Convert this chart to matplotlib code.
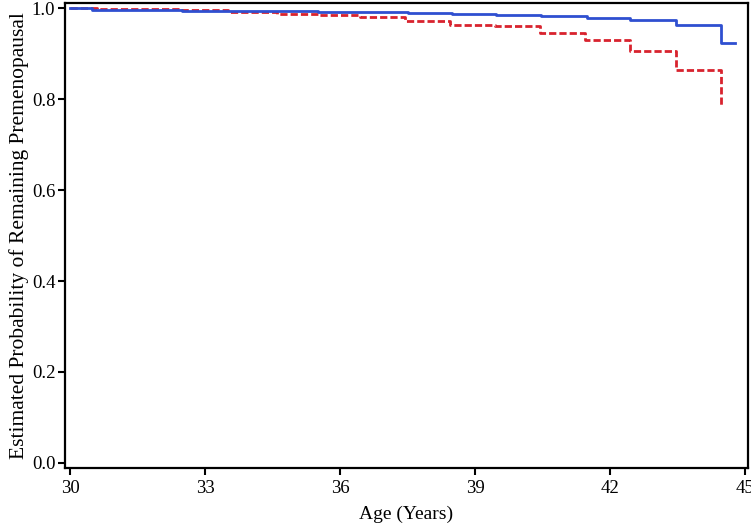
import numpy as np
import matplotlib
matplotlib.use("Agg")
import matplotlib.pyplot as plt

#---------- step data ----------
blue_age = [30.0, 30.49, 32.49, 34.5, 35.5, 37.5, 38.48, 39.47, 40.47, 41.48, 42.44, 43.45, 44.45, 44.78]
blue_surv = [1.000, 0.996, 0.994, 0.993, 0.991, 0.989, 0.987, 0.985, 0.982, 0.978, 0.974, 0.963, 0.924, 0.924]

red_age = [30.0, 30.6, 32.45, 33.5, 34.6, 35.5, 36.45, 37.45, 38.45, 39.45, 40.45, 41.45, 42.45, 43.45, 44.45]
red_surv = [1.000, 0.999, 0.995, 0.991, 0.988, 0.984, 0.980, 0.971, 0.964, 0.961, 0.946, 0.931, 0.906, 0.864, 0.783]

xticks = [30, 33, 36, 39, 42, 45]
yticks = [0.0, 0.2, 0.4, 0.6, 0.8, 1.0]

plt.rcParams['font.family'] = ['Liberation Serif', 'DejaVu Serif']

fig = plt.figure(figsize=(7.51, 5.24), dpi=100)
ax = fig.add_axes([0.0866, 0.107, 0.9094, 0.887])

red_line, = ax.step(red_age, red_surv, where='post', color='#d8232e', lw=2.0)
red_line.set_dashes((2.6, 1.1))
ax.step(blue_age, blue_surv, where='post', color='#2f4fd0', lw=2.0)

ax.set_xlim(29.89, 45.06)
ax.set_ylim(-0.011, 1.011)
ax.set_xticks(xticks)
ax.set_xticklabels([str(t) for t in xticks])
ax.set_yticks(yticks)
ax.set_yticklabels(["%.1f" % t for t in yticks])
ax.tick_params(labelsize=13.5, width=1.5, length=5, color='black', pad=2)
ax.tick_params(axis='x', pad=4)

for s in ax.spines.values():
    s.set_linewidth(1.6)

ax.set_xlabel("Age (Years)", fontsize=14, labelpad=6)
ax.set_ylabel("Estimated Probability of Remaining Premenopausal", fontsize=15.5, labelpad=2)

plt.savefig("out.png", dpi=100)
